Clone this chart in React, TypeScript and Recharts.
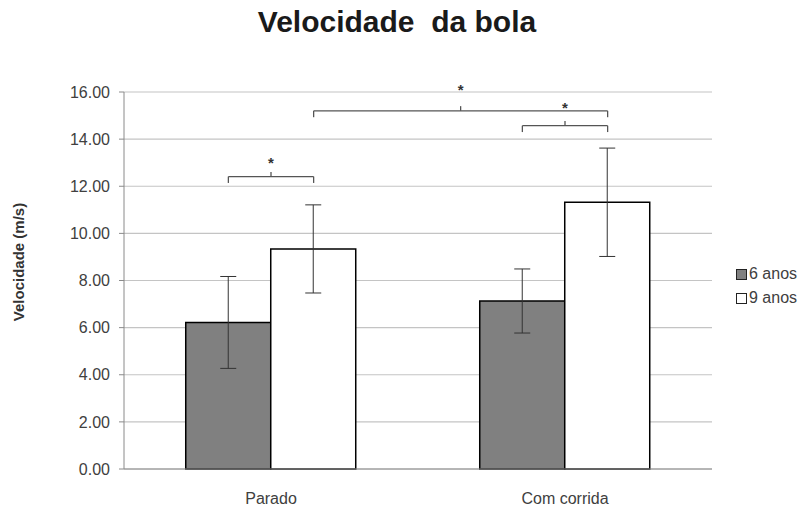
import React from "react";
import {
  BarChart, Bar, XAxis, YAxis, CartesianGrid, ErrorBar, ReferenceLine, ReferenceDot,
} from "recharts";

const categories = ["Parado", "Com corrida"];
const seriesNames = ["6 anos", "9 anos"];
const seisAnos = [6.22, 7.13];
const noveAnos = [9.34, 11.32];
const seisAnosDp = [1.95, 1.36];
const noveAnosDp = [1.87, 2.3];
const yTicks = [0, 2, 4, 6, 8, 10, 12, 14, 16];

// significance brackets (x in category units: 0..2, bar centres)
const bracketFrom = [0.355, 1.355, 0.645];
const bracketTo = [0.645, 1.645, 1.645];
const bracketY = [12.41, 14.57, 15.2];
const starY = [13.1, 15.45, 16.2];

const data = categories.map((c, i) => ({
  name: c,
  pos: i + 0.5,
  seis: seisAnos[i],
  nove: noveAnos[i],
  seisErr: seisAnosDp[i],
  noveErr: noveAnosDp[i],
}));

const FONT = "'Liberation Sans', Arial, sans-serif";
const TEXT = "#404040";
const DROP = 0.27;
const TICK_UP = 0.2;
const BRACKET = "#555";

const fills = ["#808080", "#ffffff"];

export default function App() {
  const brackets = bracketFrom.flatMap((from, i) => {
    const to = bracketTo[i];
    const y = bracketY[i];
    const mid = (from + to) / 2;
    const segs = [
      [{ x: from, y }, { x: to, y }],
      [{ x: from, y }, { x: from, y: y - DROP }],
      [{ x: to, y }, { x: to, y: y - DROP }],
      [{ x: mid, y }, { x: mid, y: y + TICK_UP }],
    ];
    return segs.map((s, j) => (
      <ReferenceLine
        key={`br-${i}-${j}`}
        xAxisId="n"
        segment={s}
        stroke={BRACKET}
        strokeWidth={1.3}
        ifOverflow="visible"
      />
    ));
  });

  const stars = bracketFrom.map((from, i) => (
    <ReferenceDot
      key={`star-${i}`}
      xAxisId="n"
      x={(from + bracketTo[i]) / 2}
      y={starY[i]}
      r={0}
      ifOverflow="visible"
      shape={(p: any) => (
        <text x={p.cx} y={p.cy + 8} textAnchor="middle" fontFamily={FONT} fontWeight="bold" fontSize={15} fill="#333">
          *
        </text>
      )}
    />
  ));

  return (
    <div style={{ position: "absolute", left: 0, top: 0, width: 805, height: 506, background: "#fff", fontFamily: FONT }}>
      <div style={{ position: "absolute", left: 0, width: 794, top: 7, textAlign: "center", fontSize: 30, lineHeight: "30px", fontWeight: "bold", color: "#1a1a1a", whiteSpace: "pre" }}>
        {"Velocidade  da bola"}
      </div>
      <div style={{ position: "absolute", left: 18, top: 262, transform: "translate(-50%, -50%) rotate(-90deg)", fontSize: 15, fontWeight: "bold", color: "#333", whiteSpace: "nowrap" }}>
        Velocidade (m/s)
      </div>
      <BarChart
        width={805}
        height={506}
        data={data}
        margin={{ top: 92, right: 93, bottom: 7, left: 0 }}
        barGap={0}
        barCategoryGap="21%"
      >
        <CartesianGrid vertical={false} stroke="#c4c4c4" strokeWidth={1.2} />
        <XAxis
          dataKey="name"
          height={30}
          tickLine={false}
          axisLine={{ stroke: "#8a8a8a" }}
          tickMargin={18}
          tick={{ fill: TEXT, fontSize: 16, fontFamily: FONT }}
        />
        <XAxis xAxisId="n" dataKey="pos" type="number" domain={[0, 2]} hide allowDataOverflow />
        <YAxis
          width={124}
          domain={[0, 16]}
          ticks={yTicks}
          interval={0}
          tickFormatter={(v: number) => v.toFixed(2)}
          tickSize={5}
          tickMargin={9}
          tickLine={{ stroke: "#8a8a8a" }}
          axisLine={{ stroke: "#8a8a8a" }}
          tick={{ fill: TEXT, fontSize: 16, fontFamily: FONT }}
        />
        <Bar dataKey="seis" name={seriesNames[0]} fill={fills[0]} stroke="#000" strokeWidth={1.5} isAnimationActive={false}>
          <ErrorBar dataKey="seisErr" width={8} stroke="#333" strokeWidth={1} direction="y" isAnimationActive={false} />
        </Bar>
        <Bar dataKey="nove" name={seriesNames[1]} fill={fills[1]} stroke="#000" strokeWidth={1.5} isAnimationActive={false}>
          <ErrorBar dataKey="noveErr" width={8} stroke="#333" strokeWidth={1} direction="y" isAnimationActive={false} />
        </Bar>
        {brackets}
        {stars}
      </BarChart>
      <div style={{ position: "absolute", left: 736, top: 262, fontSize: 16, color: TEXT, lineHeight: "24px" }}>
        {seriesNames.map((n, i) => (
          <div key={n} style={{ display: "flex", alignItems: "center" }}>
            <span style={{ display: "inline-block", width: 9, height: 9, background: fills[i], border: "1.5px solid #222", marginRight: 2 }} />
            <span>{n}</span>
          </div>
        ))}
      </div>
    </div>
  );
}
